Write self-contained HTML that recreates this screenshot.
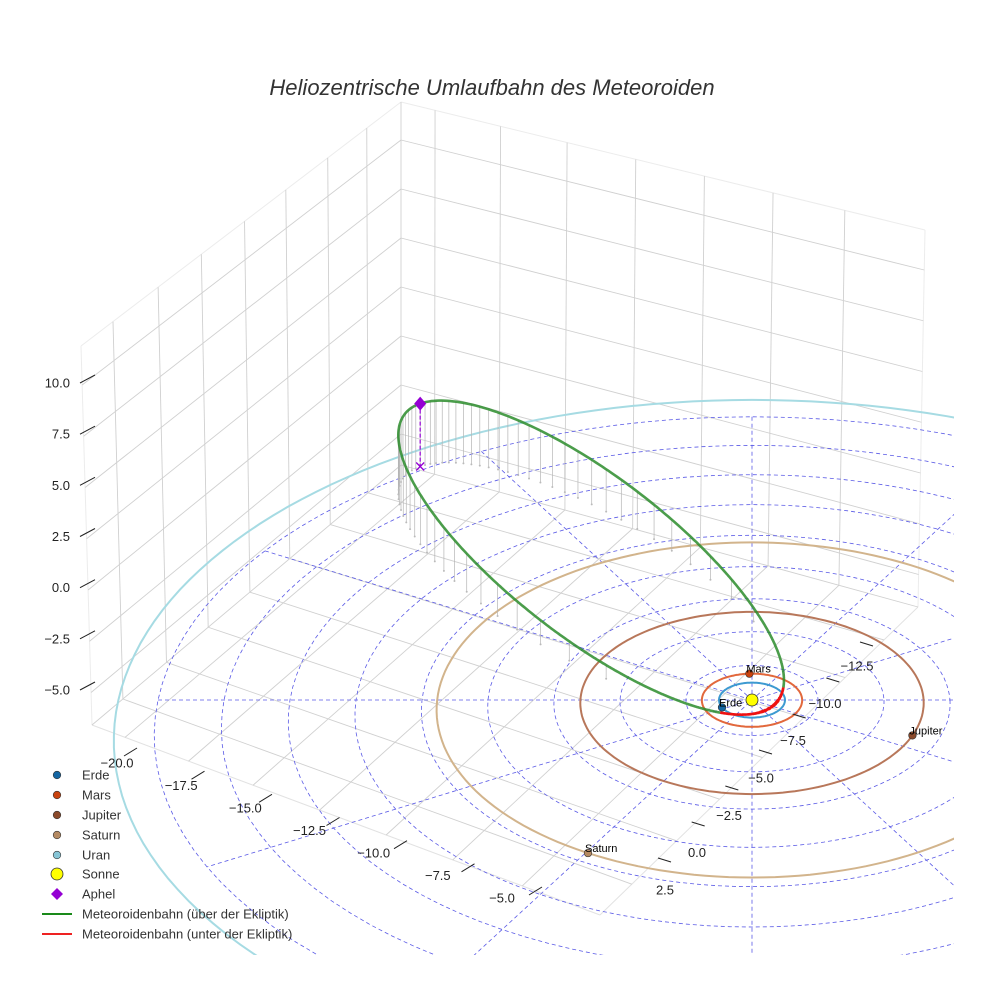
<!DOCTYPE html>
<html><head><meta charset="utf-8">
<style>
html,body{margin:0;padding:0;background:#fff;overflow:hidden;width:984px;height:984px;}
svg{display:block;overflow:hidden;font-family:"Liberation Sans","DejaVu Sans",sans-serif;}
</style></head>
<body>
<svg id="chart" width="984" height="984" viewBox="0 0 984 984" xmlns="http://www.w3.org/2000/svg">
<rect width="984" height="984" fill="#fff"/>
<defs><clipPath id="plotclip"><rect x="0" y="0" width="954" height="955"/></clipPath></defs>
<text x="492" y="95" text-anchor="middle" font-size="22" font-style="italic" fill="#333">Heliozentrische Umlaufbahn des Meteoroiden</text>
<g id="box"></g>
<g id="plot" clip-path="url(#plotclip)"></g>
<g id="axes"></g>
<g id="legend"></g>
</svg>
<script>
// ---- data ----
const planetNames = ["Erde","Mars","Jupiter","Saturn","Uran"];
const planetRadii = [1.0, 1.52, 5.2, 9.54, 19.2];
const planetAngles = [155, -93, 22.6, 119.6, 60];
const planetColors = ["#1466a3","#c9430f","#8b4a2b","#b58a62","#86c5d6"];
const orbitColors = ["#3d9ad1","#e2683c","#b8775a","#d2b48c","#a6dbe3"];
const showPlanetLabel = [true,true,true,true,false];
const meteorSemiMajor = [9.5];
const meteorEcc = [0.935];
const meteorIncl = [7.5];
const meteorPeriLong = [53];
const gridRadii = [2,4,6,8,10,12,14,16,18];
const gridAngles = [0,30,60,90,120,150];
const xTicks = [-20,-17.5,-15,-12.5,-10,-7.5,-5];
const yTicks = [-12.5,-10,-7.5,-5,-2.5,0,2.5];
const zTicks = [-5,-2.5,0,2.5,5,7.5,10];

const NS = "http://www.w3.org/2000/svg";
function mk(parent, tag, attrs){const el=document.createElementNS(NS,tag);for(const k in attrs)el.setAttribute(k,attrs[k]);parent.appendChild(el);return el;}
function P(X,Y,Z){const d=1/(1-0.00624*Y);return [752+33*X*d, 700+17.5*Y*d-28.6*Z*d];}
function lerp(a,b,t){return [a[0]+(b[0]-a[0])*t, a[1]+(b[1]-a[1])*t];}
const fmt=v=>(v<0?"\u2212":"")+Math.abs(v).toFixed(1);

// ---- box ----
const box=document.getElementById("box");
const Bt=[401,102],B=[401,465],Lt=[81,346],L=[92,725],Rt=[925,230],R=[918,607],F=[600,915];
function line(g,a,b,col,w,name){const l=mk(g,"line",{x1:a[0],y1:a[1],x2:b[0],y2:b[1],stroke:col,"stroke-width":w});


return l;}
line(box,Bt,Lt,"#ececec",1,"left-pane-edge");line(box,Bt,Rt,"#ececec",1,"right-pane-edge");
line(box,Lt,L,"#ececec",1,"left-pane-edge");line(box,Rt,R,"#ececec",1,"right-pane-edge");
line(box,L,F,"#e2e2e2",1,"floor-edge");line(box,F,R,"#e2e2e2",1,"floor-edge");
line(box,Bt,B,"#d0d0d0",0.9,"back-edge");
const fl=[.107,.229,.36,.489,.624,.759,.9];
const fr=[.065,.19,.317,.448,.579,.71,.847];
zTicks.forEach(z=>{
  const yb=336-19.6*z, yl=590-20.5*z, yr=473-20.3*z;
  const tl=(yl-346)/(725-346);
  line(box,[401,yb],[81+11*tl,yl],"#d0d0d0",0.9,"z-grid-line");
  line(box,[401,yb],[925-7*((yr-230)/377),yr],"#d0d0d0",0.9,"z-grid-line");
});
line(box,B,L,"#d0d0d0",0.9,"left-pane-bottom");line(box,B,R,"#d0d0d0",0.9,"right-pane-bottom");
fl.forEach(f=>{line(box,lerp(Bt,Lt,f),lerp(B,L,f),"#d0d0d0",0.9,"y-grid-line");line(box,lerp(B,L,f),lerp(R,F,f),"#d0d0d0",0.9,"floor-grid-line");});
fr.forEach(f=>{line(box,lerp(Bt,Rt,f),lerp(B,R,f),"#d0d0d0",0.9,"x-grid-line");line(box,lerp(B,R,f),lerp(L,F,f),"#d0d0d0",0.9,"floor-grid-line");});

// ---- plot ----
const plot=document.getElementById("plot");
gridRadii.forEach(r=>{let d="";for(let t=0;t<=360;t+=3){const p=P(r*Math.cos(t*Math.PI/180),r*Math.sin(t*Math.PI/180),0);d+=(t?"L":"M")+p[0].toFixed(1)+","+p[1].toFixed(1);}
  const el=mk(plot,"path",{d:d,fill:"none",stroke:"#5a5ae6","stroke-width":0.8,"stroke-dasharray":"4,3"});
  
  });
gridAngles.forEach(a=>{const c=Math.cos(a*Math.PI/180),s=Math.sin(a*Math.PI/180);const p1=P(-18*c,-18*s,0),p2=P(18*c,18*s,0);
  const el=mk(plot,"line",{x1:p1[0],y1:p1[1],x2:p2[0],y2:p2[1],stroke:"#5a5ae6","stroke-width":0.8,"stroke-dasharray":"4,3"});
  
  });
planetRadii.forEach((r,i)=>{let d="";for(let t=0;t<=360;t+=2){const p=P(r*Math.cos(t*Math.PI/180),r*Math.sin(t*Math.PI/180),0);d+=(t?"L":"M")+p[0].toFixed(1)+","+p[1].toFixed(1);}
  const el=mk(plot,"path",{d:d,fill:"none",stroke:orbitColors[i],"stroke-width":2});
  
  });
const a=meteorSemiMajor[0],e=meteorEcc[0],inc=meteorIncl[0]*Math.PI/180,w=meteorPeriLong[0]*Math.PI/180;
const Pv=[Math.cos(w)*Math.cos(inc),Math.sin(w)*Math.cos(inc),-Math.sin(inc)],Nv=[-Math.sin(w),Math.cos(w),0];
function pos(nu){const r=a*(1-e*e)/(1+e*Math.cos(nu));const c=r*Math.cos(nu),s=r*Math.sin(nu);return [c*Pv[0]+s*Nv[0],c*Pv[1]+s*Nv[1],c*Pv[2]+s*Nv[2]];}
for(let M=0;M<360;M+=6){const Mr=M*Math.PI/180;let E=Mr;for(let k=0;k<50;k++)E=E-(E-e*Math.sin(E)-Mr)/(1-e*Math.cos(E));
  const nu=2*Math.atan2(Math.sqrt(1+e)*Math.sin(E/2),Math.sqrt(1-e)*Math.cos(E/2));const q=pos(nu);if(q[2]<0.25)continue;
  const p1=P(q[0],q[1],q[2]),p2=P(q[0],q[1],0);
  const l=mk(plot,"line",{x1:p1[0],y1:p1[1],x2:p2[0],y2:p2[1],stroke:"#b5b5b5","stroke-width":0.7});
  
  
  const c=mk(plot,"circle",{cx:p2[0],cy:p2[1],r:1,fill:"#bbb"});
  
  }
let segs=[],cur=null;
for(let k=0;k<=1440;k++){const nu=-Math.PI+k*2*Math.PI/1440;const q=pos(nu);const above=q[2]>=0;const p=P(q[0],q[1],q[2]);
  if(!cur||cur.above!==above){if(cur)cur.pts.push(p);cur={above:above,pts:[p]};segs.push(cur);}else cur.pts.push(p);}
segs.forEach(s=>{const d="M"+s.pts.map(p=>p[0].toFixed(1)+","+p[1].toFixed(1)).join("L");
  const el=mk(plot,"path",{d:d,fill:"none",stroke:s.above?"#2b8c2b":"#ee1111","stroke-width":2.6,"stroke-opacity":s.above?0.85:1});
  
  });
const aq=pos(Math.PI),ap=P(aq[0],aq[1],aq[2]),ag=P(aq[0],aq[1],0);
const al=mk(plot,"line",{x1:ap[0],y1:ap[1],x2:ag[0],y2:ag[1],stroke:"#9400d3","stroke-width":1.2,"stroke-dasharray":"4,2"});


const ax=mk(plot,"path",{d:`M${ag[0]-4},${ag[1]-4}L${ag[0]+4},${ag[1]+4}M${ag[0]-4},${ag[1]+4}L${ag[0]+4},${ag[1]-4}`,stroke:"#9400d3","stroke-width":1.3});


const ad=mk(plot,"path",{d:`M${ap[0]},${ap[1]-7}L${ap[0]+6},${ap[1]}L${ap[0]},${ap[1]+7}L${ap[0]-6},${ap[1]}Z`,fill:"#9400d3"});


planetRadii.forEach((r,i)=>{const t=planetAngles[i]*Math.PI/180;const p=P(r*Math.cos(t),r*Math.sin(t),0);
  const c=mk(plot,"circle",{cx:p[0],cy:p[1],r:3.8,fill:planetColors[i],stroke:"#333","stroke-width":0.6});
  
  
  if(showPlanetLabel[i]){const tx=mk(plot,"text",{x:p[0]-3,y:p[1]-1,"font-size":11,fill:"#000"});tx.textContent=planetNames[i];
    
    }});
const sp=P(0,0,0);
const sun=mk(plot,"circle",{cx:sp[0],cy:sp[1],r:6,fill:"#ffff00",stroke:"#333","stroke-width":0.8});



// ---- ticks ----
const axes=document.getElementById("axes");
function txt(g,x,y,s,anchor,name){const t=mk(g,"text",{x:x,y:y+4.5,"font-size":13,fill:"#222","text-anchor":anchor});t.textContent=s;
  
  return t;}
xTicks.forEach(v=>{const t=(v+20)/15;const px=137+405*t,py=748+139*t;
  line(axes,[px,py],[px-13,py+8],"#222",1,"x-tick");
  txt(axes,117+385*t,763+135*t,fmt(v),"middle","x-tick-label");});
yTicks.forEach(v=>{const t=(v+12.5)/15;const px=860-202*t,py=642+216*t;
  line(axes,[px,py],[px+13,py+4],"#222",1,"y-tick");
  txt(axes,857-192*t,666+224*t,fmt(v),"middle","y-tick-label");});
zTicks.forEach(v=>{const y=690-307*(v+5)/15;
  line(axes,[80,y],[95,y-8],"#222",1,"z-tick");
  txt(axes,70,y,fmt(v),"end","z-tick-label");});

// ---- legend ----
const lg=document.getElementById("legend");
const legY=[775,795,815,835,855,874,894,914,934];
function ltxt(y,s,name){const t=mk(lg,"text",{x:82,y:y+4.5,"font-size":13,fill:"#333"});t.textContent=s;
  
  }
planetNames.forEach((n,i)=>{const c=mk(lg,"circle",{cx:57,cy:legY[i],r:3.8,fill:planetColors[i],stroke:"#333","stroke-width":0.6});
  
  
  ltxt(legY[i],n,'legend-label-'+n.toLowerCase());});
const ls=mk(lg,"circle",{cx:57,cy:legY[5],r:6,fill:"#ffff00",stroke:"#333","stroke-width":0.8});


ltxt(legY[5],"Sonne","legend-label-sonne");
const la=mk(lg,"path",{d:`M57,${legY[6]-6}L63,${legY[6]}L57,${legY[6]+6}L51,${legY[6]}Z`,fill:"#9400d3"});


ltxt(legY[6],"Aphel","legend-label-aphel");
line(lg,[42,legY[7]],[72,legY[7]],"#1a8a1a",2,"legend-line-above");
ltxt(legY[7],"Meteoroidenbahn (über der Ekliptik)","legend-label-above");
line(lg,[42,legY[8]],[72,legY[8]],"#ee2222",2,"legend-line-below");
ltxt(legY[8],"Meteoroidenbahn (unter der Ekliptik)","legend-label-below");
</script>
</body></html>
